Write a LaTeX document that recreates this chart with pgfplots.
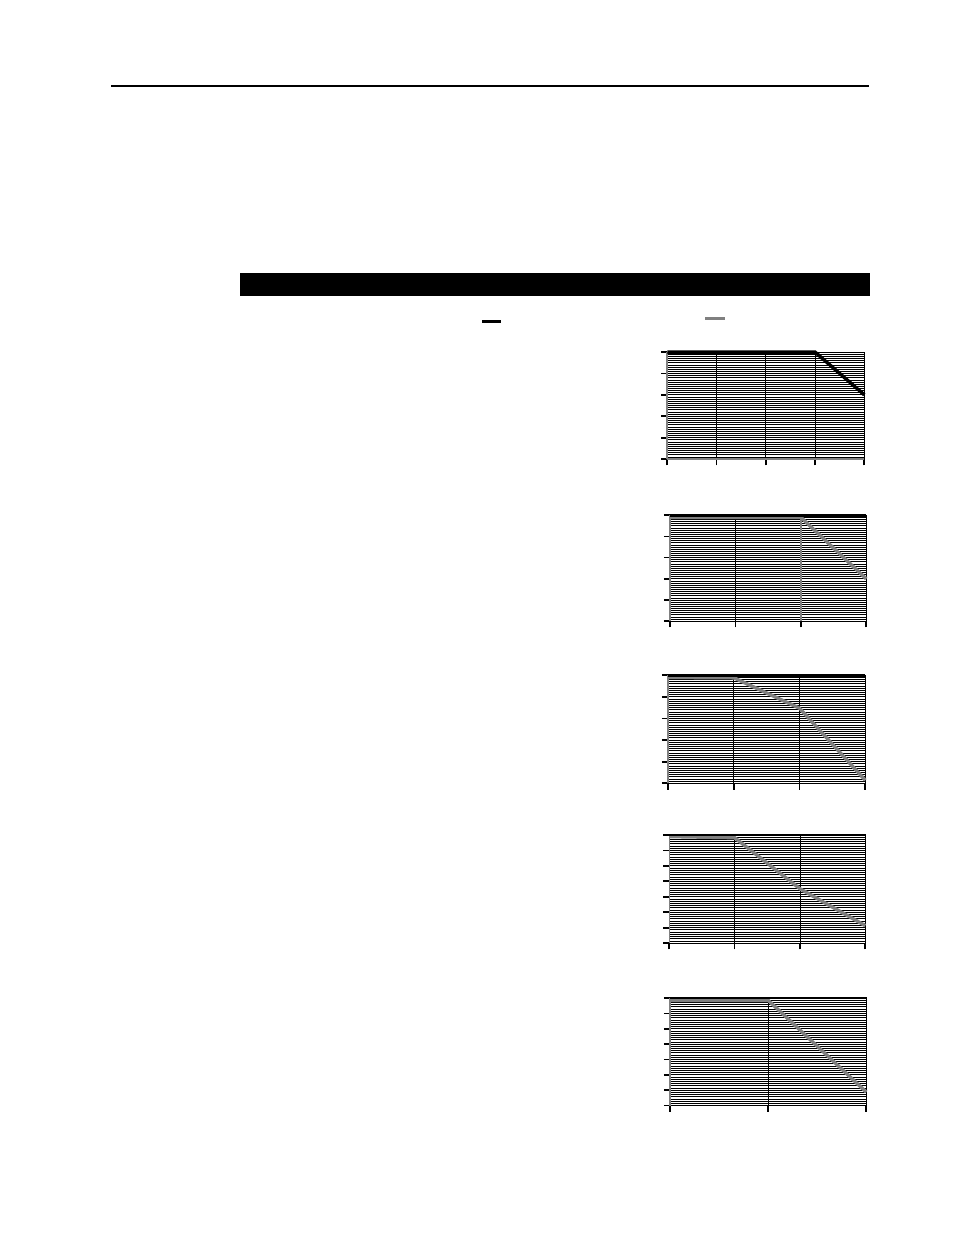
\documentclass[border=0pt]{standalone}
\usepackage{pgfplots}
\pgfplotsset{compat=1.18}

\definecolor{sergray}{RGB}{128,128,128}

\pgfplotsset{
  mini/.style={
    set layers=standard,
    scale only axis,
    anchor=north west,
    clip=false,
    axis line style={black, line width=0.7pt},
    tick align=outside,
    xtick pos=bottom, ytick pos=left,
    major tick length=4pt,
    minor tick length=0pt,
    every tick/.style={black, line width=1.1pt},
    xticklabels={}, yticklabels={},
    xmajorgrids, ymajorgrids, yminorgrids,
    major grid style={black, line width=0.55pt},
    minor grid style={black, line width=0.5pt},
    ymin=0,
  },
  blk/.style={black, line width=1.7pt, no markers, on layer=axis foreground},
  gry/.style={sergray, line width=2.2pt, no markers, on layer=axis foreground},
}

\begin{document}
\begin{tikzpicture}
\path (0,0) rectangle (612pt,-792pt);

% page rule, header bar, legend keys
\draw[line width=0.8pt] (71.2pt,-55.2pt) -- (557.5pt,-55.2pt);
\fill[black] (154.0pt,-175.1pt) rectangle (558.1pt,-189.9pt);
\draw[black, line width=2pt] (309.2pt,-206.0pt) -- (321.4pt,-206.0pt);
\draw[sergray, line width=2pt] (452.3pt,-204.4pt) -- (465.1pt,-204.4pt);

% chart 1
\begin{axis}[mini, at={(427.9pt,-225.8pt)}, width=126.4pt, height=68.6pt,
  xmin=0, xmax=4, xtick={0,1,2,3,4}, ymax=5, ytick={0,1,2,3,4,5}, minor y tick num=9]
\addplot[gry, line width=1.2pt] coordinates {(0,0) (1,0) (2,0) (3,0) (4,0)};
\addplot[blk, line width=2.2pt] coordinates {(0,5) (1,5) (2,5) (3,5) (4,3)};
\draw[sergray, line width=1pt] (rel axis cs:0,0) -- (rel axis cs:0,1);
\end{axis}

% chart 2
\begin{axis}[mini, at={(429.8pt,-330.4pt)}, width=125.7pt, height=68.0pt,
  xmin=0, xmax=3, xtick={0,1,2,3}, ymax=5, ytick={0,1,2,3,4,5}, minor y tick num=9]
\addplot[gry] coordinates {(0,4.9) (1,4.9) (2,4.9) (3,2.0)};
\addplot[blk] coordinates {(0,5) (1,5) (2,5) (3,5)};
\draw[sergray, line width=1pt] (rel axis cs:0,0) -- (rel axis cs:0,1);
\draw[sergray, line width=1pt] (rel axis cs:0.6667,0) -- (rel axis cs:0.6667,0.98);
\end{axis}

% chart 3
\begin{axis}[mini, at={(428.5pt,-433.0pt)}, width=126.4pt, height=69.3pt,
  xmin=0, xmax=3, xtick={0,1,2,3}, ymax=5, ytick={0,1,2,3,4,5}, minor y tick num=9]
\addplot[gry] coordinates {(0,4.9) (1,4.88) (2,3.47) (3,0.14)};
\addplot[blk] coordinates {(0,5) (1,5) (2,5) (3,5)};
\draw[sergray, line width=1pt] (rel axis cs:0,0) -- (rel axis cs:0,1);
\end{axis}

% chart 4
\begin{axis}[mini, at={(429.2pt,-535.5pt)}, width=125.7pt, height=69.3pt,
  xmin=0, xmax=3, xtick={0,1,2,3}, ymax=7, ytick={0,1,2,3,4,5,6,7}, minor y tick num=6]
\addplot[gry] coordinates {(0,6.9) (1,6.83) (2,3.52) (3,1.13)};
\addplot[blk] coordinates {(0,7) (1,7) (2,7) (3,7)};
\draw[sergray, line width=1pt] (rel axis cs:0,0) -- (rel axis cs:0,1);
\end{axis}

% chart 5
\begin{axis}[mini, at={(429.8pt,-640.0pt)}, width=125.7pt, height=69.0pt,
  xmin=0, xmax=2, xtick={0,1,2}, ymax=7, ytick={0,1,2,3,4,5,6,7}, minor y tick num=6]
\addplot[gry] coordinates {(0,6.85) (1,6.85) (2,0.88)};
\addplot[blk] coordinates {(0,7) (1,7) (2,7)};
\draw[sergray, line width=1pt] (rel axis cs:0,0) -- (rel axis cs:0,1);
\end{axis}

\end{tikzpicture}
\end{document}
